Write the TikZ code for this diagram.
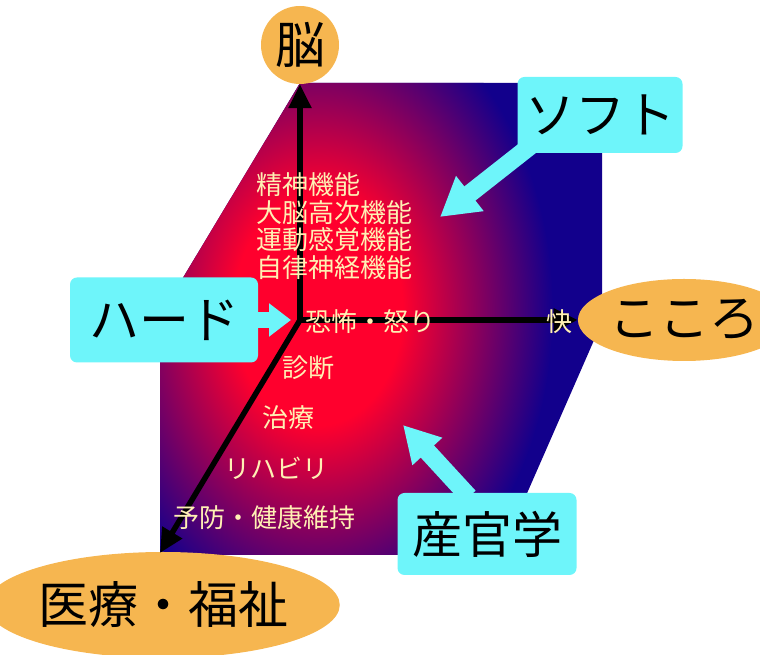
\documentclass[tikz,border=0pt]{standalone}
\usepackage{fontspec}
\setmainfont{Noto Sans CJK JP}
\usetikzlibrary{arrows.meta,shapes.geometric}

\definecolor{corered}{RGB}{255,0,45}
\definecolor{edgenavy}{RGB}{18,0,140}
\definecolor{calloutcyan}{RGB}{110,245,250}
\definecolor{tagorange}{RGB}{246,182,80}
\definecolor{itemcream}{RGB}{255,240,180}

\pgfdeclareradialshading{redcore}{\pgfpoint{0bp}{0bp}}{color(0bp)=(corered); color(9bp)=(corered); color(25bp)=(edgenavy); color(50bp)=(edgenavy)}

\begin{document}
\begin{tikzpicture}[x=1pt, y=1pt, >={Triangle[length=24pt,width=22pt]}]

    \tikzset{%
    axis end/.style={
        fill=tagorange,
        inner sep=0pt,
        font=\fontsize{50}{50}\selectfont
        },
    callout/.style={
        fill=calloutcyan,
        rounded corners=7pt,
        font=\fontsize{50}{50}\selectfont
        },
    callout arrow/.style={
        draw=calloutcyan,
        line width=18pt
        },
    item/.style={
        text=itemcream,
        inner sep=0pt,
        font=\fontsize{26}{26}\selectfont
        },
    axis/.style={
        ->,
        line width=5.5pt
        },
    }

    \useasboundingbox (0,0) rectangle (760,655);

    % Shaded cube behind the axes
    \fill [edgenavy] (300,572) -- (602,572) -- (602,333) -- (500,100) -- (160,100) -- (160,339) -- cycle;
    \begin{scope}
    \clip (300,572) -- (602,572) -- (602,333) -- (500,100) -- (160,100) -- (160,339) -- cycle;
    \shade [shading=redcore] (318,345) ellipse [x radius=235, y radius=320];
    \end{scope}

    % Axis ends
    \node [axis end, circle, minimum size=78pt] (brain) at (300,610) {脳};
    \node [axis end, ellipse, minimum width=162pt, minimum height=82pt] (mind) at (684,335) {こころ};
    \node [axis end, ellipse, minimum width=322pt, minimum height=106pt] (care) at (163,50) {医療・福祉};

    % The three axes
    \coordinate (o) at (300,335);
    \coordinate (care-tip) at (160,102);
    \draw [axis] (o) -- (brain);
    \draw [axis] (o) -- (mind);
    \draw [axis] (o) -- (care-tip);

    % Labels along the brain axis
    \foreach \l [count=\y] in {精神機能,大脳高次機能,運動感覚機能,自律神経機能}
    \node [item, anchor=west] (func-\y) at (256,497.5-\y*27.5) {\l};

    % Labels along the mind axis
    \node [item, anchor=west] (fear) at (305,333) {恐怖・怒り};
    \node [item] (pleasure) at (559,333) {快};

    % Labels along the care axis
    \foreach \l/\x/\y in {診断/308/287, 治療/288/237, リハビリ/276/187, 予防・健康維持/264/137}
    \node [item] (step-\y) at (\x,\y) {\l};

    % Callouts and their arrows
    \node [callout, minimum width=165pt, minimum height=76pt] (soft) at (600,540) {ソフト};
    \node [callout, minimum width=188pt, minimum height=85pt] (hard) at (164,335) {ハード};
    \node [callout, minimum width=179pt, minimum height=82pt] (sangaku) at (487,121) {産官学};

    \coordinate (soft-tip) at (440,438);
    \coordinate (hard-tip) at (291,335);
    \coordinate (sangaku-tip) at (403,230);

    \draw [callout arrow, -{Triangle[length=38pt,width=42pt]}] ([shift={(14pt,8pt)}]soft.south west) -- (soft-tip);
    \draw [callout arrow, line width=16pt, -{Triangle[length=22pt,width=32pt]}] ([xshift=-4pt]hard.east) -- (hard-tip);
    \draw [callout arrow, -{Triangle[length=36pt,width=38pt]}] ([xshift=-18pt,yshift=-4pt]sangaku.north) -- (sangaku-tip);

\end{tikzpicture}
\end{document}
